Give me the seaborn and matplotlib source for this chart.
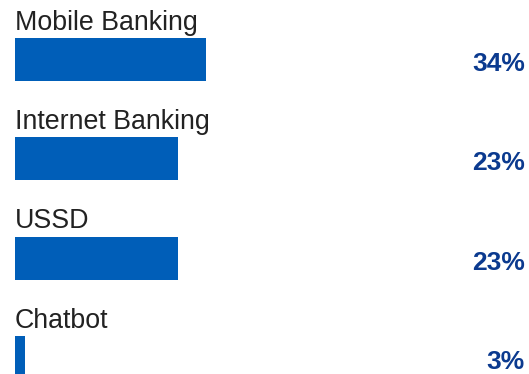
import matplotlib
matplotlib.use("Agg")
import matplotlib.pyplot as plt
import seaborn as sns
import pandas as pd

# Data
categories = ["Mobile Banking", "Internet Banking", "USSD", "Chatbot"]
share_labels = [34, 23, 23, 3]            # printed percentages
bar_lengths = [34, 29, 29, 1.8]           # bar lengths as drawn in the picture

df = pd.DataFrame({"channel": categories, "length": bar_lengths})

sns.set_theme(style="white")
plt.rcParams["font.family"] = ["Liberation Sans", "DejaVu Sans"]

W, H = 529, 374
fig = plt.figure(figsize=(W / 100, H / 100), dpi=100)
left_px = 15
ax = fig.add_axes([left_px / W, 0, (W - left_px) / W, 1])

bar_color = "#005EB8"
sns.barplot(data=df, y="channel", x="length", orient="h", color=bar_color,
            width=0.435, ax=ax, saturation=1, linewidth=0)

# scale: 34 -> 191 px
ax.set_xlim(0, 34 * (W - left_px) / 191)
spacing = 99.33
c0 = 59.5
ax.set_ylim((H - c0) / spacing, -c0 / spacing)

for i, (cat, val) in enumerate(zip(categories, share_labels)):
    ax.text(0, i - 0.30, cat, ha="left", va="baseline", fontsize=19.3,
            color="#222222", transform=ax.transData)
    ax.text((525 - left_px) / (W - left_px), i + 0.045, f"{val}%",
            ha="right", va="center", fontsize=19, fontweight="bold",
            color="#0B3A8F", transform=ax.get_yaxis_transform())

ax.set_axis_off()
fig.savefig("out.png", dpi=100)
